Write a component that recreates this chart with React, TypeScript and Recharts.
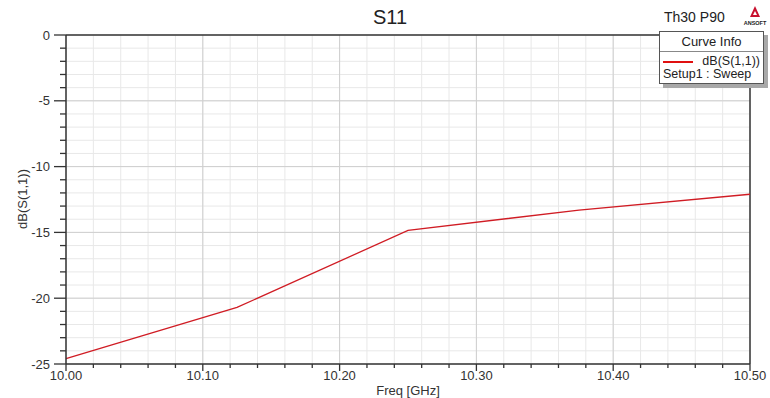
import React from "react";
import { CartesianGrid, Line, LineChart, ReferenceLine, XAxis, YAxis } from "recharts";

// sweep points
const freqs = [10.0, 10.125, 10.25, 10.375, 10.5];
const s11 = [-24.6, -20.7, -14.85, -13.3, -12.1];

const xTicks = [
  10.0, 10.02, 10.04, 10.06, 10.08, 10.1, 10.12, 10.14, 10.16, 10.18, 10.2, 10.22, 10.24, 10.26, 10.28,
  10.3, 10.32, 10.34, 10.36, 10.38, 10.4, 10.42, 10.44, 10.46, 10.48, 10.5,
];
const xMajor = [10.0, 10.1, 10.2, 10.3, 10.4, 10.5];
const yTicks = [
  -25, -24, -23, -22, -21, -20, -19, -18, -17, -16, -15, -14, -13, -12, -11, -10, -9, -8, -7, -6, -5, -4, -3,
  -2, -1, 0,
];
const yMajor = [-25, -20, -15, -10, -5, 0];

const data = freqs.map((f, i) => ({ freq: f, db: s11[i] }));

const FONT = '"Liberation Sans", Arial, sans-serif';
const INK = "#333";

const near = (list: number[], v: number) => list.some((m) => Math.abs(m - v) < 1e-6);

function XTick(props: any) {
  const { x, y, payload } = props;
  const major = near(xMajor, payload.value);
  return (
    <g>
      <line x1={x} y1={y} x2={x} y2={y + (major ? 7 : 4)} stroke={INK} strokeWidth={1.3} />
      {major && (
        <text x={x} y={y + 16} textAnchor="middle" fontSize={13} fontFamily={FONT} fill={INK}>
          {payload.value.toFixed(2)}
        </text>
      )}
    </g>
  );
}

function YTick(props: any) {
  const { x, y, payload } = props;
  const major = near(yMajor, payload.value);
  return (
    <g>
      <line x1={x - (major ? 12 : 6)} y1={y} x2={x} y2={y} stroke={INK} strokeWidth={1.3} />
      {major && (
        <text x={x - 16} y={y} dy="0.35em" textAnchor="end" fontSize={13} fontFamily={FONT} fill={INK}>
          {payload.value}
        </text>
      )}
    </g>
  );
}

export default function App() {
  return (
    <div style={{ position: "absolute", left: 0, top: 0, width: 770, height: 398, background: "#fff", fontFamily: FONT }}>
      <LineChart width={770} height={398} data={data} margin={{ top: 35, right: 20, bottom: 0, left: 0 }}>
        <CartesianGrid stroke="#e8e8e8" />
        {xMajor.slice(1, -1).map((v) => (
          <ReferenceLine key={"x" + v} x={v} stroke="#cfcfcf" />
        ))}
        {yMajor.slice(1, -1).map((v) => (
          <ReferenceLine key={"y" + v} y={v} stroke="#cfcfcf" />
        ))}
        <ReferenceLine y={0} stroke={INK} strokeWidth={1.5} />
        <ReferenceLine x={10.5} stroke={INK} strokeWidth={1.5} />
        <XAxis
          dataKey="freq"
          type="number"
          domain={[10, 10.5]}
          ticks={xTicks}
          interval={0}
          height={34}
          tickSize={0}
          tickMargin={0}
          tickLine={false}
          tick={<XTick />}
          axisLine={{ stroke: INK, strokeWidth: 1.5 }}
        />
        <YAxis
          type="number"
          domain={[-25, 0]}
          ticks={yTicks}
          interval={0}
          width={66}
          tickSize={0}
          tickMargin={0}
          tickLine={false}
          tick={<YTick />}
          axisLine={{ stroke: INK, strokeWidth: 1.5 }}
        />
        <Line dataKey="db" stroke="#d01c24" strokeWidth={1.3} dot={false} isAnimationActive={false} />
      </LineChart>

      <div style={{ position: "absolute", left: 340, width: 100, top: 6, textAlign: "center", fontSize: 20, color: "#222" }}>S11</div>
      <div style={{ position: "absolute", left: 664, top: 9, fontSize: 14, color: "#222" }}>Th30 P90</div>
      <svg style={{ position: "absolute", left: 740, top: 3 }} width={30} height={26}>
        <polygon points="15,3 10,14 20,14" fill="#c8102e" />
        <polygon points="15,8 13,12 17,12" fill="#fff" />
        <text x={15} y={22} textAnchor="middle" fontSize={5.5} fontFamily={FONT} fontWeight="bold" fill="#222">
          ANSOFT
        </text>
      </svg>

      <div
        style={{
          position: "absolute",
          left: 659,
          top: 31,
          width: 103,
          height: 51,
          border: "1px solid #555",
          background: "#fff",
          boxShadow: "4px 4px 0 #a8a8a8",
          color: "#222",
        }}
      >
        <div style={{ height: 19, borderBottom: "1px solid #888", textAlign: "center", fontSize: 13, lineHeight: "20px" }}>Curve Info</div>
        <div style={{ position: "relative", height: 31 }}>
          <div style={{ position: "absolute", left: 3, top: 9, width: 30, height: 2, background: "#e01010" }} />
          <div style={{ position: "absolute", right: 3, top: 2, fontSize: 12.5 }}>dB(S(1,1))</div>
          <div style={{ position: "absolute", left: 3, top: 15, fontSize: 12.5, whiteSpace: "nowrap" }}>Setup1 : Sweep</div>
        </div>
      </div>

      <div style={{ position: "absolute", left: 308, width: 200, top: 383, textAlign: "center", fontSize: 13, color: INK }}>Freq [GHz]</div>
      <div
        style={{
          position: "absolute",
          left: 22,
          top: 199,
          transform: "translate(-50%, -50%) rotate(-90deg)",
          fontSize: 13,
          color: INK,
          whiteSpace: "nowrap",
        }}
      >
        dB(S(1,1))
      </div>
    </div>
  );
}
